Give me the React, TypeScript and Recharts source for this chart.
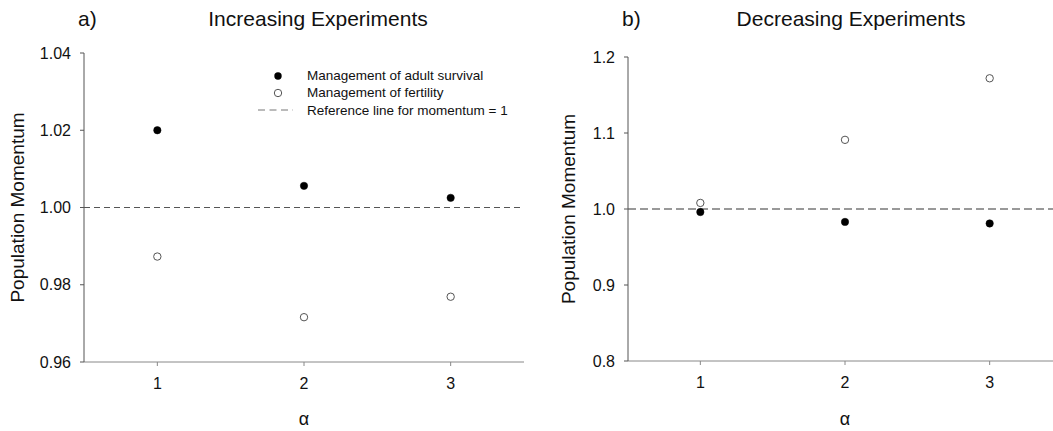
import { ScatterChart, Scatter, XAxis, YAxis, ReferenceLine, Legend } from 'recharts'

const alphaValues = [1, 2, 3]
const alphaTicks = [1, 2, 3]

// a) increasing experiments
const incSurvival = [1.02, 1.0056, 1.0025]
const incFertility = [0.9873, 0.9716, 0.9769]
const incTicks = [0.96, 0.98, 1.0, 1.02, 1.04]

// b) decreasing experiments
const decSurvival = [0.996, 0.983, 0.981]
const decFertility = [1.008, 1.091, 1.172]
const decTicks = [0.8, 0.9, 1.0, 1.1, 1.2]

const legendLabels = [
  'Management of adult survival',
  'Management of fertility',
  'Reference line for momentum = 1',
]

const font = '"Liberation Sans", Arial, sans-serif'

const toPoints = (values: number[]) => alphaValues.map((alpha, i) => ({ alpha, value: values[i] }))

const filledDot = (props: any) => (
  <circle cx={props.cx} cy={props.cy} r={3.7} fill="#000" stroke="#000" strokeWidth={0.5} />
)
const openDot = (props: any) => (
  <circle cx={props.cx} cy={props.cy} r={3.7} fill="#fff" stroke="#555" strokeWidth={1} />
)

const yLabel = (x: number) => (props: any) => {
  const vb = props.viewBox
  const cy = vb.y + vb.height / 2
  return (
    <text
      x={x}
      y={cy}
      transform={`rotate(-90 ${x} ${cy})`}
      textAnchor="middle"
      fontSize={19}
      fontFamily={font}
      fill="#111"
    >
      Population Momentum
    </text>
  )
}

const xLabel = (props: any) => {
  const vb = props.viewBox
  return (
    <text x={vb.x + vb.width / 2} y={425} textAnchor="middle" fontSize={18} fontFamily={font} fill="#111">
      α
    </text>
  )
}

function LegendBox() {
  return (
    <div style={{ fontFamily: font, fontSize: 13.5, color: '#111' }}>
      {legendLabels.map((label, i) => (
        <div key={label} style={{ display: 'flex', alignItems: 'center', height: 17.3 }}>
          <svg width={40} height={12} style={{ marginRight: 11 }}>
            {i === 0 && <circle cx={22} cy={6} r={3.7} fill="#000" />}
            {i === 1 && <circle cx={22} cy={6} r={3.7} fill="#fff" stroke="#555" />}
            {i === 2 && <line x1={2} y1={6} x2={37} y2={6} stroke="#777" strokeDasharray="7 4.5" />}
          </svg>
          <span style={{ whiteSpace: 'nowrap' }}>{label}</span>
        </div>
      ))}
    </div>
  )
}

const tickStyle = { fill: '#111', fontSize: 16, fontFamily: font }

function Title({ left, tag, center, text }: { left: number; tag: string; center: number; text: string }) {
  const style = { position: 'absolute' as const, top: 8, fontFamily: font, fontSize: 21, lineHeight: '21px', color: '#111', whiteSpace: 'nowrap' as const }
  return (
    <>
      <div style={{ ...style, left }}>{tag}</div>
      <div style={{ ...style, left: center, transform: 'translateX(-50%)' }}>{text}</div>
    </>
  )
}

export default function App() {
  return (
    <div style={{ position: 'absolute', left: 0, top: 0, width: 1053, height: 431, overflow: 'hidden', background: '#fff' }}>
      <Title left={78} tag="a)" center={318} text="Increasing Experiments" />
      <Title left={622} tag="b)" center={851} text="Decreasing Experiments" />

      <div style={{ position: 'absolute', left: 0, top: 0 }}>
        <ScatterChart width={530} height={431} margin={{ top: 53, right: 6, bottom: 0, left: 0 }}>
          <XAxis
            type="number"
            dataKey="alpha"
            domain={[0.5, 3.5]}
            ticks={alphaTicks}
            height={69}
            stroke="#888"
            tickSize={4}
            tickMargin={12}
            tick={tickStyle}
            label={xLabel}
          />
          <YAxis
            type="number"
            dataKey="value"
            domain={[0.96, 1.04]}
            ticks={incTicks}
            width={84}
            stroke="#555"
            tickSize={4}
            tickMargin={9}
            tick={tickStyle}
            tickFormatter={(v: number) => v.toFixed(2)}
            label={yLabel(23.6)}
          />
          <ReferenceLine y={1} stroke="#555" strokeDasharray="6 4" strokeWidth={1} />
          <Scatter data={toPoints(incSurvival)} shape={filledDot} isAnimationActive={false} />
          <Scatter data={toPoints(incFertility)} shape={openDot} isAnimationActive={false} />
          <Legend
            layout="vertical"
            align="center"
            verticalAlign="middle"
            content={() => <LegendBox />}
            wrapperStyle={{ left: 256, top: 67, width: 280, height: 54 }}
          />
        </ScatterChart>
      </div>

      <div style={{ position: 'absolute', left: 530, top: 0 }}>
        <ScatterChart width={540} height={431} margin={{ top: 57, right: 8, bottom: 0, left: 0 }}>
          <XAxis
            type="number"
            dataKey="alpha"
            domain={[0.5, 3.5]}
            ticks={alphaTicks}
            height={70}
            stroke="#888"
            tickSize={4}
            tickMargin={12}
            tick={tickStyle}
            label={xLabel}
          />
          <YAxis
            type="number"
            dataKey="value"
            domain={[0.8, 1.2]}
            ticks={decTicks}
            width={98}
            stroke="#555"
            tickSize={4}
            tickMargin={9}
            tick={tickStyle}
            tickFormatter={(v: number) => v.toFixed(1)}
            label={yLabel(45.3)}
          />
          <ReferenceLine y={1} stroke="#999" strokeDasharray="8 4" strokeWidth={1.8} />
          <Scatter data={toPoints(decSurvival)} shape={filledDot} isAnimationActive={false} />
          <Scatter data={toPoints(decFertility)} shape={openDot} isAnimationActive={false} />
        </ScatterChart>
      </div>
    </div>
  )
}
